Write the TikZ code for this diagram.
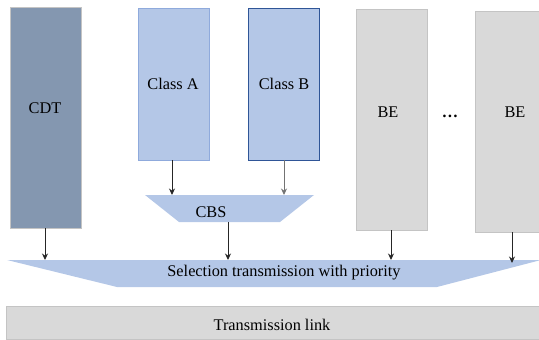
\documentclass[tikz,border=0pt]{standalone}
\usepackage{fontspec}
\setmainfont{Liberation Serif}
\usepackage{xcolor}
\usepackage{tikz}
\usetikzlibrary{arrows.meta}
\definecolor{slate}{HTML}{8497B0}
\definecolor{lightblue}{HTML}{B4C7E7}
\definecolor{midblue}{HTML}{8FAADC}
\definecolor{darkblue}{HTML}{2F5597}
\definecolor{lightgrey}{HTML}{D9D9D9}
\definecolor{edgegrey}{HTML}{C4C4C4}
\tikzset{
  queue/.style={rectangle, minimum width=71pt, inner sep=0pt, line width=0.8pt},
  cdtq/.style={queue, fill=slate, draw=edgegrey},
  classq/.style={queue, fill=lightblue, draw=midblue},
  beq/.style={queue, fill=lightgrey, draw=edgegrey},
  lbl/.style={font=\rmfamily\fontsize{16.3}{19}\selectfont, text=black},
  flow/.style={-{Stealth[length=6.5pt,width=6pt]}, line width=0.9pt, draw=black!85}
}

\begin{document}
\begin{tikzpicture}[x=1pt,y=-1pt]
\useasboundingbox (0,0) rectangle (539,340);
\clip (0,0) rectangle (539,340);
% queues
\node[cdtq, minimum height=221pt] (cdt) at (45.5,117.5) {};
\node[lbl] at (45,108) {CDT};
\node[classq, minimum height=152pt] (ca) at (173.5,84) {};
\node[lbl] at (173,84) {Class A};
\node[classq, draw=darkblue, minimum height=152pt] (cb) at (283.5,84) {};
\node[lbl] at (284,84) {Class B};
\node[beq, minimum height=221pt] (be1) at (391.5,119.5) {};
\node[lbl] at (388,112) {BE};
\node[beq, minimum height=221pt] (be2) at (510.5,121.5) {};
\node[lbl] at (515,112) {BE};
\node[lbl] (dots) at (450,116) {\textbf{…}};
% schedulers
\fill[lightblue] (145,195) -- (314,195) -- (280,222) -- (179,222) -- cycle;
\node[lbl] (cbs) at (211,212) {CBS};
\fill[lightblue] (7,260) -- (541,260) -- (437,287) -- (117,287) -- cycle;
\node[lbl] (sel) at (284,273) {Selection transmission with priority};
\node[beq, minimum width=536pt, minimum height=33pt] (link) at (274,322.5) {};
\node[lbl] at (272,325) {Transmission link};
% arrow ends
\coordinate (cbsA) at (172,195);
\coordinate (cbsB) at (284,195);
\coordinate (cbsout) at (228,222);
\coordinate (selcdt) at (45,260);
\coordinate (selcbs) at (228,260);
\coordinate (selbe1) at (391,260);
\coordinate (selbe2) at (512,263);
\draw[flow] (ca.south -| cbsA) -- (cbsA);
\draw[flow, draw=black!55] (cb.south -| cbsB) -- (cbsB);
\draw[flow] (cbsout) -- (selcbs);
\draw[flow] (cdt.south -| selcdt) -- (selcdt);
\draw[flow] (be1.south -| selbe1) -- (selbe1);
\draw[flow] (be2.south -| selbe2) -- (selbe2);
\end{tikzpicture}
\end{document}
